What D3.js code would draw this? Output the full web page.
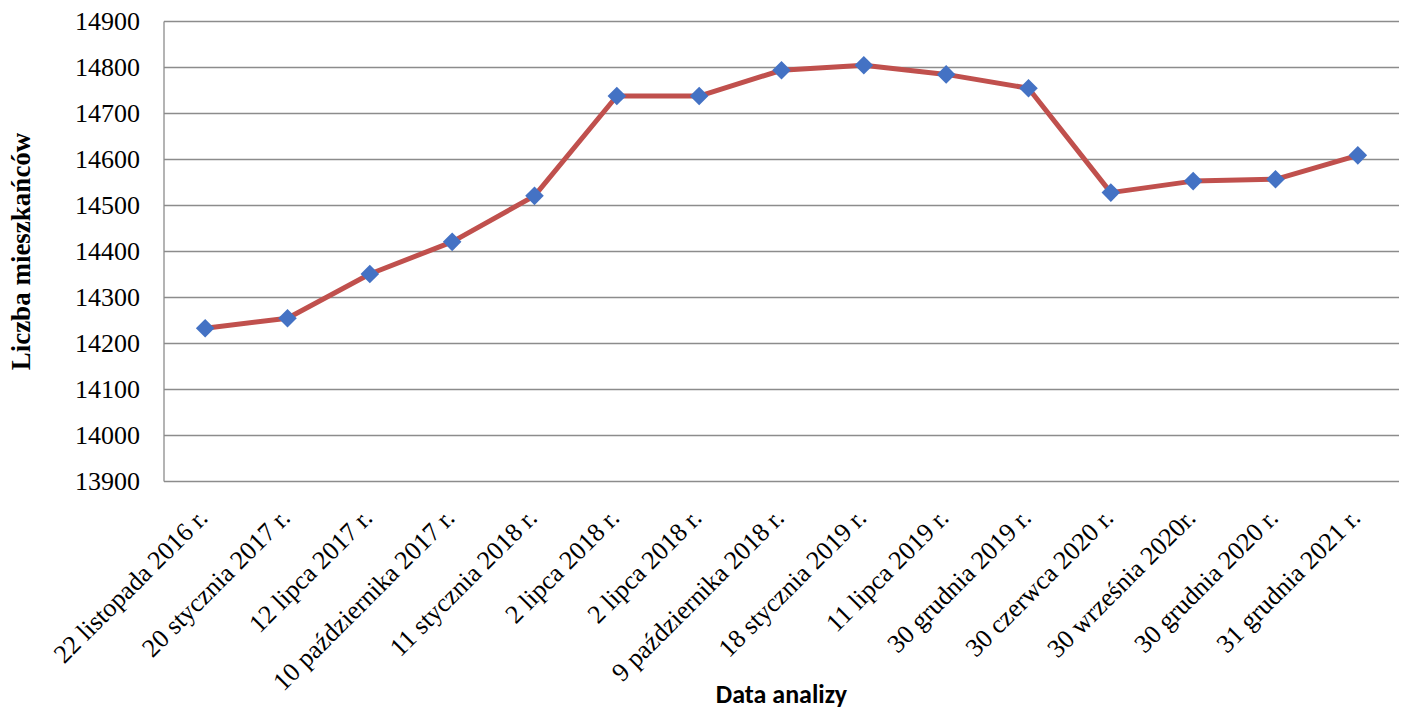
<!DOCTYPE html>
<html>
<head>
<meta charset="utf-8">
<script src="https://cdn.jsdelivr.net/npm/d3@7"></script>
<style>
  html, body { margin: 0; padding: 0; background: #fff; }
</style>
</head>
<body>
<svg id="chart" width="1407" height="710"></svg>
<script>
const dates = [
  "22 listopada 2016 r.", "20 stycznia 2017 r.", "12 lipca 2017 r.", "10 października 2017 r.",
  "11 stycznia 2018 r.", "2 lipca 2018 r.", "2 lipca 2018 r.", "9 października 2018 r.",
  "18 stycznia 2019 r.", "11 lipca 2019 r.", "30 grudnia 2019 r.", "30 czerwca 2020 r.",
  "30 września 2020r.", "30 grudnia 2020 r.", "31 grudnia 2021 r."
];
const residents = [14233, 14255, 14351, 14421, 14521, 14738, 14738, 14794, 14805, 14785, 14755, 14528, 14553, 14557, 14609];
const yTicks = [13900, 14000, 14100, 14200, 14300, 14400, 14500, 14600, 14700, 14800, 14900];

const serif = "'Liberation Serif', 'Times New Roman', serif";
const svg = d3.select("#chart");
const m = { left: 164, right: 1399, top: 21.5, bottom: 481.5 };

// categories are drawn as bands, points sit in the middle of each
const x = d3.scaleBand().domain(d3.range(dates.length)).range([m.left, m.right]);
const y = d3.scaleLinear().domain([13900, 14900]).range([m.bottom, m.top]);
const cx = (i) => x(i) + x.bandwidth() / 2;

// gridlines
svg.append("g")
  .selectAll("line").data(yTicks.slice(1)).enter().append("line")
  .attr("x1", m.left).attr("x2", m.right)
  .attr("y1", (d) => y(d)).attr("y2", (d) => y(d))
  .attr("stroke", "#8c8c8c").attr("stroke-width", 1.3);

// axis lines
svg.append("line").attr("x1", m.left).attr("x2", m.right).attr("y1", m.bottom).attr("y2", m.bottom)
  .attr("stroke", "#8c8c8c").attr("stroke-width", 1.3);
svg.append("line").attr("x1", m.left).attr("x2", m.left).attr("y1", m.top).attr("y2", m.bottom)
  .attr("stroke", "#8c8c8c").attr("stroke-width", 1.3);

// y tick labels
svg.append("g").selectAll("text").data(yTicks).enter().append("text")
  .attr("x", 140).attr("y", (d) => y(d)).attr("dy", "0.34em")
  .attr("text-anchor", "end")
  .attr("font-family", serif).attr("font-size", 26)
  .text((d) => d);

// x tick labels, rotated
svg.append("g").selectAll("text").data(dates).enter().append("text")
  .attr("text-anchor", "end")
  .attr("font-family", serif).attr("font-size", 26)
  .attr("transform", (d, i) => `translate(${cx(i) + 4},${m.bottom + 38}) rotate(-45)`)
  .text((d) => d);

// line
svg.append("path").datum(residents)
  .attr("fill", "none").attr("stroke", "#C0504D").attr("stroke-width", 5).attr("stroke-linejoin", "round")
  .attr("d", d3.line().x((d, i) => cx(i)).y((d) => y(d)));

// markers
const diamond = d3.symbol().type(d3.symbolDiamond2).size(220);
svg.append("g").selectAll("path").data(residents).enter().append("path")
  .attr("d", diamond)
  .attr("fill", "#4472C4")
  .attr("transform", (d, i) => `translate(${cx(i)},${y(d)})`);

// axis titles
svg.append("text")
  .attr("transform", `translate(30,${(m.top + m.bottom) / 2}) rotate(-90)`)
  .attr("text-anchor", "middle")
  .attr("font-family", serif).attr("font-size", 27).attr("font-weight", "bold")
  .text("Liczba mieszkańców");

svg.append("text")
  .attr("x", (m.left + m.right) / 2).attr("y", 703)
  .attr("text-anchor", "middle")
  .attr("font-family", "Carlito, 'Open Sans', 'Liberation Sans', sans-serif")
  .attr("font-size", 26).attr("font-weight", "bold")
  .text("Data analizy");
</script>
</body>
</html>
